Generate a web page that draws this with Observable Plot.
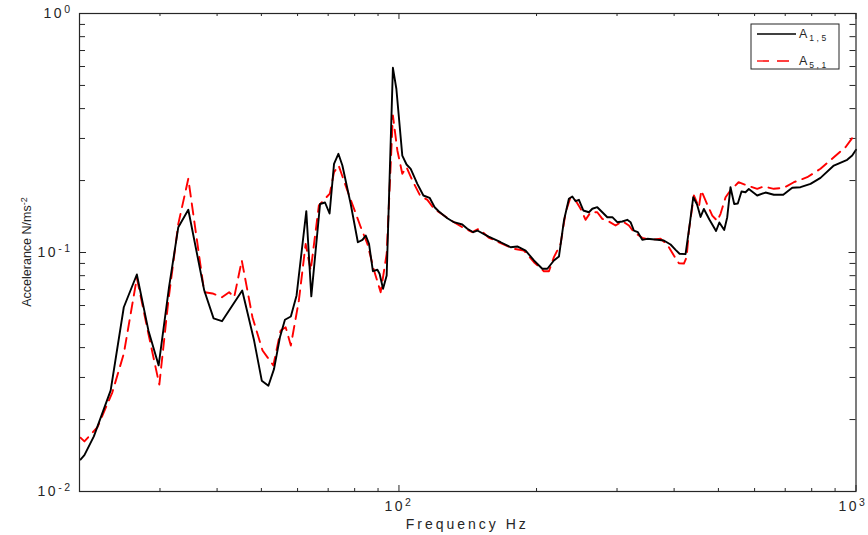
<!DOCTYPE html>
<html>
<head>
<meta charset="utf-8">
<script src="https://cdn.jsdelivr.net/npm/d3@7"></script>
<script src="https://cdn.jsdelivr.net/npm/@observablehq/plot@0.6"></script>
<style>
  html, body { margin: 0; padding: 0; background: #ffffff; }
  #chart { width: 868px; height: 535px; }
</style>
</head>
<body>
<div id="chart"></div>
<script>
// ---- Data ----
const seriesNames = ["A1,5", "A5,1"];

const freqA15 = [20.1, 20.5, 21.5, 23.4, 25.0, 26.7, 28.3, 29.8, 31.4, 32.9,
  34.6, 37.5, 39.3, 41.0, 45.4, 48.2, 50.1, 51.8, 53.3, 54.9,
  56.3, 58.0, 59.7, 62.7, 64.3, 67.2, 68.9, 70.5, 72.1, 73.7,
  75.2, 78.4, 81.3, 83.2, 84.6, 86.0, 87.7, 89.7, 90.7, 92.3,
  94.0, 97.0, 98.7, 101.7, 103.9, 106.1, 109.7, 113.1, 116.7, 119.7,
  122.3, 127.6, 131.9, 137.6, 141.1, 145.4, 148.4, 157.1, 166.9, 175.5,
  181.5, 189.3, 197.4, 205.9, 211.2, 218.3, 223.9, 229.6, 235.4, 239.5,
  243.5, 247.6, 253.1, 260.4, 264.9, 271.6, 278.6, 285.7, 293.0, 300.4,
  308.1, 315.9, 321.2, 326.6, 333.2, 340.7, 349.4, 367.4, 379.8, 392.9,
  403.0, 411.1, 423.7, 432.3, 440.5, 449.0, 457.0, 464.7, 477.7, 494.1,
  502.3, 514.8, 522.7, 531.4, 541.4, 551.3, 561.7, 573.1, 582.7, 607.9,
  633.9, 661.0, 693.1, 725.3, 756.1, 795.2, 836.2, 894.3, 956.6, 981.1,
  1000];
const accA15 = [0.0136, 0.0142, 0.0170, 0.0265, 0.0590, 0.0809, 0.0472, 0.0337, 0.0716, 0.1276,
  0.1509, 0.0693, 0.0530, 0.0516, 0.0693, 0.0428, 0.0291, 0.0277, 0.0326, 0.0442,
  0.0523, 0.0540, 0.0661, 0.1489, 0.0655, 0.1596, 0.1619, 0.1456, 0.2350, 0.2588,
  0.2312, 0.1599, 0.1104, 0.1130, 0.1178, 0.1087, 0.0835, 0.0847, 0.0815, 0.0705,
  0.0801, 0.5926, 0.4842, 0.2545, 0.2334, 0.2240, 0.1938, 0.1732, 0.1694, 0.1547,
  0.1484, 0.1391, 0.1339, 0.1310, 0.1257, 0.1216, 0.1236, 0.1166, 0.1104, 0.1052,
  0.1060, 0.1019, 0.0926, 0.0855, 0.0855, 0.0926, 0.0962, 0.1361, 0.1678, 0.1715,
  0.1639, 0.1661, 0.1499, 0.1474, 0.1524, 0.1547, 0.1474, 0.1405, 0.1405, 0.1339,
  0.1348, 0.1370, 0.1339, 0.1236, 0.1216, 0.1130, 0.1141, 0.1130, 0.1122, 0.1080,
  0.1026, 0.0988, 0.0984, 0.1297, 0.1703, 0.1588, 0.1408, 0.1521, 0.1374, 0.1230,
  0.1335, 0.1242, 0.1405, 0.1876, 0.1596, 0.1603, 0.1799, 0.1787, 0.1843, 0.1732,
  0.1782, 0.1744, 0.1744, 0.1865, 0.1876, 0.1938, 0.2053, 0.2312, 0.2443, 0.2545,
  0.2690];

const freqA51 = [20.1, 20.5, 21.9, 23.6, 25.0, 26.7, 28.3, 29.9, 31.3, 32.9,
  34.6, 37.5, 39.1, 41.0, 42.5, 43.6, 45.3, 47.8, 50.3, 53.1,
  55.1, 56.5, 58.0, 60.4, 62.5, 64.1, 66.8, 70.6, 72.1, 73.8,
  77.1, 82.5, 85.3, 88.2, 91.2, 94.0, 97.0, 99.2, 101.7, 103.9,
  107.0, 111.2, 115.4, 119.3, 125.4, 131.9, 137.6, 144.7, 149.6, 157.1,
  166.9, 178.5, 187.7, 197.4, 207.5, 212.9, 218.3, 225.8, 231.6, 237.4,
  243.5, 249.7, 256.1, 262.6, 271.6, 278.6, 288.0, 297.8, 308.1, 318.5,
  326.6, 340.7, 355.2, 373.6, 386.4, 399.5, 409.7, 420.2, 426.0, 430.9,
  441.9, 453.2, 458.6, 472.7, 484.8, 497.2, 505.4, 518.4, 530.1, 553.4,
  578.1, 607.9, 628.5, 661.0, 695.2, 731.1, 782.1, 836.2, 894.3, 948.5,
  1000];
const accA51 = [0.0168, 0.0162, 0.0186, 0.0260, 0.0377, 0.0783, 0.0457, 0.0280, 0.0630, 0.1318,
  0.2034, 0.0682, 0.0674, 0.0650, 0.0682, 0.0650, 0.0926, 0.0536, 0.0389, 0.0337,
  0.0472, 0.0487, 0.0408, 0.0630, 0.1087, 0.0841, 0.1573, 0.1765, 0.2168, 0.2312,
  0.1817, 0.1276, 0.1087, 0.0841, 0.0682, 0.0988, 0.3744, 0.2672, 0.2135, 0.2275,
  0.2001, 0.1732, 0.1661, 0.1524, 0.1428, 0.1339, 0.1276, 0.1216, 0.1257, 0.1155,
  0.1094, 0.1036, 0.1019, 0.0911, 0.0835, 0.0835, 0.0956, 0.1087, 0.1474, 0.1703,
  0.1650, 0.1524, 0.1370, 0.1474, 0.1474, 0.1383, 0.1348, 0.1297, 0.1352, 0.1297,
  0.1216, 0.1152, 0.1130, 0.1141, 0.1080, 0.0971, 0.0902, 0.0899, 0.0956, 0.1236,
  0.1732, 0.1547, 0.1817, 0.1588, 0.1428, 0.1355, 0.1452, 0.1703, 0.1808, 0.1968,
  0.1907, 0.1847, 0.1889, 0.1847, 0.1865, 0.1968, 0.2065, 0.2240, 0.2504, 0.2758,
  0.3168];

const xTickValues = [100, 1000];
const xMinorTicks = [20, 30, 40, 50, 60, 70, 80, 90, 200, 300, 400, 500, 600, 700, 800, 900];
const yTickValues = [0.01, 0.1, 1];
const yMinorTicks = [0.02, 0.03, 0.04, 0.05, 0.06, 0.07, 0.08, 0.09, 0.2, 0.3, 0.4, 0.5, 0.6, 0.7, 0.8, 0.9];
const xLabel = "Frequency Hz";
const yLabel = "Accelerance N/ms";
const yLabelExp = "-2";

// ---- Build tables ----
const dataA15 = d3.zip(freqA15, accA15).map(([f, a]) => ({f, a}));
const dataA51 = d3.zip(freqA51, accA51).map(([f, a]) => ({f, a}));

// ---- Layout ----
const W = 868, H = 535, mL = 79, mR = 12.5, mT = 13, mB = 44;
const innerW = W - mL - mR, innerH = H - mT - mB;
const ink = "#262626";
const fontFam = "'Liberation Sans', Arial, Helvetica, sans-serif";
const expFormat = d => `10^${Math.round(Math.log10(d))}`;

const svg = Plot.plot({
  width: W, height: H,
  marginLeft: mL, marginRight: mR, marginTop: mT, marginBottom: mB,
  style: {fontFamily: fontFam, fontSize: "14px", color: ink, background: "#ffffff"},
  x: {type: "log", domain: [20, 1000], ticks: xTickValues, tickFormat: expFormat,
      tickSize: 0, tickPadding: 10, label: null},
  y: {type: "log", domain: [0.01, 1], ticks: yTickValues, tickFormat: expFormat,
      tickSize: 0, tickPadding: 7, label: null},
  marks: [
    // inward ticks on all four sides
    Plot.tickX(xTickValues, {x: d => d, insetTop: innerH - 6, stroke: ink}),
    Plot.tickX(xMinorTicks, {x: d => d, insetTop: innerH - 3, stroke: ink}),
    Plot.tickX(xTickValues, {x: d => d, insetBottom: innerH - 6, stroke: ink}),
    Plot.tickX(xMinorTicks, {x: d => d, insetBottom: innerH - 3, stroke: ink}),
    Plot.tickY(yTickValues, {y: d => d, insetRight: innerW - 7, stroke: ink}),
    Plot.tickY(yMinorTicks, {y: d => d, insetRight: innerW - 6, stroke: ink}),
    Plot.tickY(yTickValues, {y: d => d, insetLeft: innerW - 7, stroke: ink}),
    Plot.tickY(yMinorTicks, {y: d => d, insetLeft: innerW - 6, stroke: ink}),
    Plot.line(dataA51, {x: "f", y: "a", stroke: "#ff0000", strokeWidth: 1.9,
      strokeDasharray: "11,7", strokeLinejoin: "round"}),
    Plot.line(dataA15, {x: "f", y: "a", stroke: "#000000", strokeWidth: 1.9,
      strokeLinejoin: "round"}),
    Plot.frame({stroke: ink, strokeWidth: 1.2})
  ]
});

// ---- Superscript tick labels ----
const sel = d3.select(svg);
sel.selectAll("text").each(function () {
  const m = /^10\^(-?\d+)$/.exec(this.textContent.trim());
  if (!m) return;
  const t = d3.select(this);
  t.selectAll("*").remove();
  t.text(null);
  t.style("letter-spacing", "2.5px").style("font-size", "14px");
  if (m[1] === "3") t.attr("dx", -3);
  t.append("tspan").text("10");
  t.append("tspan").attr("dy", "-0.5em").attr("font-size", "0.75em").text(m[1]);
});

// ---- Axis titles ----
sel.append("text")
  .attr("x", mL + innerW / 2).attr("y", 529)
  .attr("text-anchor", "middle")
  .attr("fill", ink)
  .style("font-family", fontFam).style("font-size", "14px").style("letter-spacing", "3px")
  .text(xLabel);

const yl = sel.append("text")
  .attr("transform", `translate(31,${mT + innerH / 2}) rotate(-90)`)
  .attr("text-anchor", "middle")
  .attr("fill", ink)
  .style("font-family", fontFam).style("font-size", "12.5px");
yl.append("tspan").text(yLabel);
yl.append("tspan").attr("dy", "-0.45em").attr("font-size", "0.72em").text(yLabelExp);

// ---- Legend ----
const lg = sel.append("g").attr("aria-label", "legend");
lg.append("rect").attr("x", 751).attr("y", 24).attr("width", 88).attr("height", 45)
  .attr("fill", "#ffffff").attr("stroke", ink).attr("stroke-width", 1);
const legendItems = [
  {name: seriesNames[0], stroke: "#000000", dash: null, y: 34},
  {name: seriesNames[1], stroke: "#ff0000", dash: "12,8", y: 61}
];
legendItems.forEach(it => {
  lg.append("line").attr("x1", 757).attr("x2", 796).attr("y1", it.y).attr("y2", it.y)
    .attr("stroke", it.stroke).attr("stroke-width", 1.3)
    .attr("stroke-dasharray", it.dash);
  const t = lg.append("text").attr("x", 799).attr("y", it.y + 4)
    .attr("text-anchor", "start")
    .attr("fill", ink)
    .style("font-family", fontFam).style("font-size", "12.5px");
  t.append("tspan").text(it.name[0]);
  t.append("tspan").attr("dy", "3").attr("dx", "2").attr("font-size", "8.5px")
    .style("letter-spacing", "2.5px").text(it.name.slice(1));
});

document.getElementById("chart").appendChild(svg);
</script>
</body>
</html>
